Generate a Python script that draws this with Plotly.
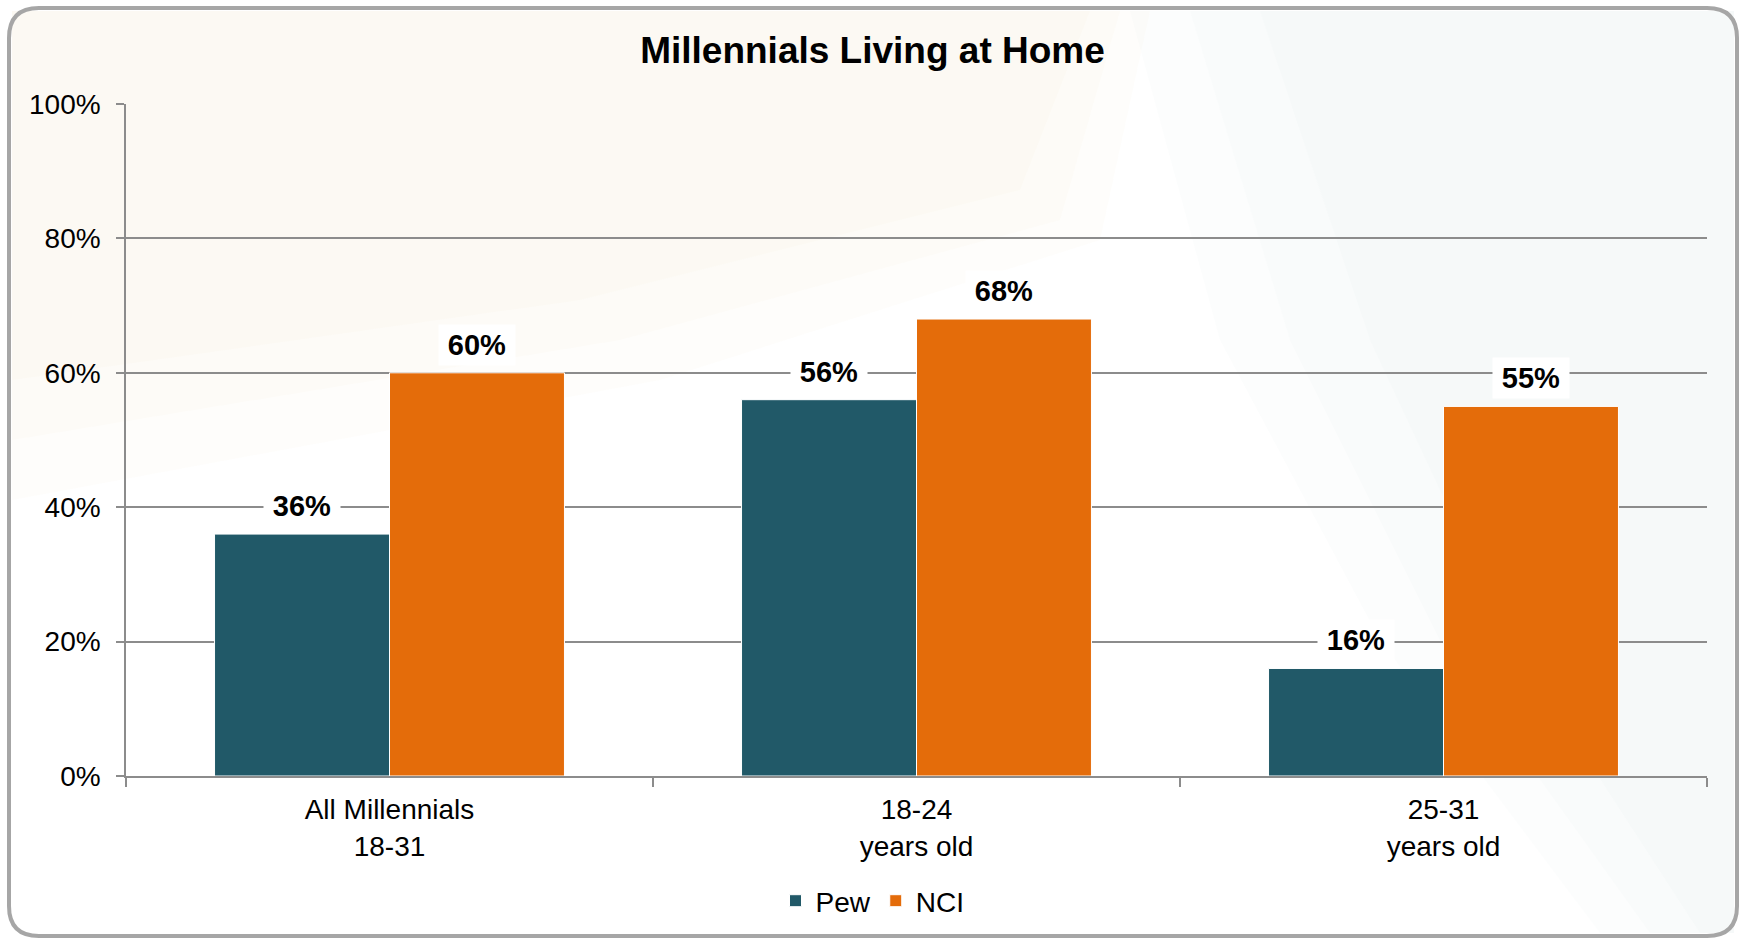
import plotly.graph_objects as go

# ---- data ----
categories = ["All Millennials<br>18-31", "18-24<br>years old", "25-31<br>years old"]
pew = [36, 56, 16]
nci = [60, 68, 55]
y_ticks = [0, 20, 40, 60, 80, 100]
y_tick_text = [f"{v}%" for v in y_ticks]

PEW_COLOR = "#215968"
NCI_COLOR = "#E46C0A"
FONT = "Liberation Sans, Arial, sans-serif"

W, H = 1745, 940
M_L, M_R, M_T, M_B = 126, 38, 104, 164
PW, PH = W - M_L - M_R, H - M_T - M_B


def fx(x):
    """pixel x -> paper fraction"""
    return (x - M_L) / PW


def fy(y):
    """pixel y (from top) -> paper fraction"""
    return (H - M_B - y) / PH


def poly(points):
    return "M " + " L ".join(f"{fx(x):.5f},{fy(y):.5f}" for x, y in points) + " Z"


def rounded_rect(x0, y0, x1, y1, r):
    p = lambda x, y: f"{fx(x):.5f},{fy(y):.5f}"
    return (
        f"M {p(x0 + r, y0)} L {p(x1 - r, y0)} Q {p(x1, y0)} {p(x1, y0 + r)} "
        f"L {p(x1, y1 - r)} Q {p(x1, y1)} {p(x1 - r, y1)} "
        f"L {p(x0 + r, y1)} Q {p(x0, y1)} {p(x0, y1 - r)} "
        f"L {p(x0, y0 + r)} Q {p(x0, y0)} {p(x0 + r, y0)} Z"
    )


x_pos = list(range(len(categories)))
bargap = 0.336
half = (1 - bargap) / 4  # offset of each bar centre from the group centre

fig = go.Figure()
fig.add_trace(go.Bar(
    name="Pew", x=x_pos, y=pew,
    marker=dict(color=PEW_COLOR, line=dict(color="white", width=1.0)),
))
fig.add_trace(go.Bar(
    name="NCI", x=x_pos, y=nci,
    marker=dict(color=NCI_COLOR, line=dict(color="white", width=1.0)),
))

# value labels on white boxes above the bars
annotations = []
for series, sign in ((pew, -1), (nci, 1)):
    for i, v in enumerate(series):
        annotations.append(dict(
            x=i + sign * half, y=v, xref="x", yref="y",
            text=f"<b>{v}%</b>", showarrow=False,
            yanchor="bottom", yshift=7,
            bgcolor="white", width=76, height=40, borderpad=0,
            font=dict(family=FONT, size=29, color="black"),
        ))

# soft background tints, built from a few overlapping translucent bands
shapes = [
    dict(type="path", xref="paper", yref="paper", layer="below",
         path=rounded_rect(9, 8, 1737, 936, 30), fillcolor="white",
         line=dict(width=0)),
]
warm_bands = [
    [(12, 11), (1150, 11), (1100, 240), (660, 380), (12, 500)],
    [(12, 11), (1120, 11), (1060, 220), (620, 340), (12, 440)],
    [(12, 11), (1090, 11), (1020, 190), (580, 300), (12, 380)],
]
for pts in warm_bands:
    shapes.append(dict(type="path", xref="paper", yref="paper", layer="below",
                       path=poly(pts), fillcolor="rgba(240,232,200,0.07)",
                       line=dict(width=0)))
cool_bands = [
    [(1130, 11), (1734, 11), (1734, 933), (1600, 933), (1380, 640), (1220, 340)],
    [(1190, 11), (1734, 11), (1734, 933), (1650, 933), (1440, 640), (1290, 340)],
    [(1260, 11), (1734, 11), (1734, 933), (1700, 933), (1510, 640), (1370, 340)],
]
for pts in cool_bands:
    shapes.append(dict(type="path", xref="paper", yref="paper", layer="below",
                       path=poly(pts), fillcolor="rgba(215,232,228,0.08)",
                       line=dict(width=0)))
shapes.append(
    dict(type="path", xref="paper", yref="paper", layer="above",
         path=rounded_rect(9, 8, 1737, 936, 30), fillcolor="rgba(0,0,0,0)",
         line=dict(color="#a6a6a6", width=4)))

fig.update_layout(
    width=W, height=H,
    margin=dict(l=M_L, r=M_R, t=M_T, b=M_B, autoexpand=False),
    paper_bgcolor="white",
    plot_bgcolor="rgba(0,0,0,0)",
    barmode="group", bargap=bargap, bargroupgap=0,
    font=dict(family=FONT, size=28, color="black"),
    title=dict(
        text="<b>Millennials Living at Home</b>",
        x=0.5, xref="container", xanchor="center",
        y=1 - 50 / H, yref="container", yanchor="middle",
        font=dict(family=FONT, size=37, color="black"),
    ),
    legend=dict(
        orientation="h", xref="container", yref="container",
        x=0.5, xanchor="center", y=39 / H, yanchor="middle",
        font=dict(family=FONT, size=28, color="black"),
        bgcolor="rgba(0,0,0,0)", itemclick=False,
    ),
    showlegend=True,
    annotations=annotations,
    shapes=shapes,
)

fig.update_xaxes(
    range=[-0.5, len(categories) - 0.5],
    tickmode="array", tickvals=x_pos, ticktext=categories,
    ticks="", showgrid=False, zeroline=False,
    showline=True, linecolor="#8c8c8c", linewidth=1.5,
    tickfont=dict(family=FONT, size=28, color="black"),
    ticklabelstandoff=8,
    minor=dict(tickmode="array", tickvals=[i - 0.5 for i in range(len(categories) + 1)],
               ticks="outside", ticklen=9, tickcolor="#8c8c8c", tickwidth=1.5,
               showgrid=False),
)
fig.update_yaxes(
    range=[0, 100], tickmode="array", tickvals=y_ticks, ticktext=y_tick_text,
    ticks="outside", ticklen=8, tickcolor="#8c8c8c", tickwidth=1.5,
    showgrid=True, gridcolor="#8c8c8c", gridwidth=1.5,
    zeroline=False, showline=True, linecolor="#8c8c8c", linewidth=1.5,
    tickfont=dict(family=FONT, size=28, color="black"),
    ticklabelstandoff=10,
)

fig.write_html("out.html")
